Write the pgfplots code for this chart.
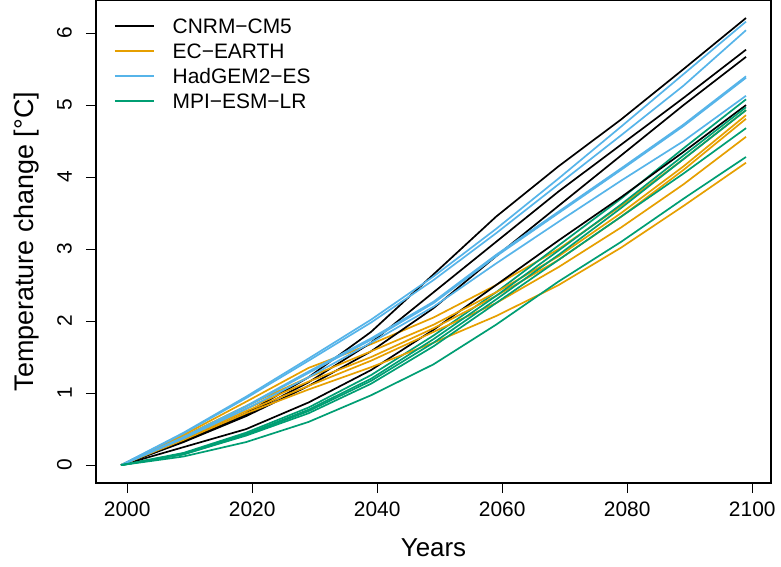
\documentclass[border=0pt]{standalone}
\usepackage{fontspec}
\setmainfont{Liberation Sans}
\usepackage{pgfplots}
\pgfplotsset{compat=1.18}
\definecolor{cnrm}{HTML}{000000}
\definecolor{ecearth}{HTML}{E69F00}
\definecolor{hadgem}{HTML}{56B4E9}
\definecolor{mpi}{HTML}{009E73}
\begin{document}
\begin{tikzpicture}
\useasboundingbox (-96bp,-84bp) rectangle (685bp,483bp);
\begin{axis}[
  at={(0,0)}, anchor=south west,
  width=675bp, height=483bp, scale only axis,
  xmin=1995, xmax=2103, ymin=-0.248, ymax=6.46,
  xtick={2000,2020,2040,2060,2080,2100},
  xticklabels={2000,2020,2040,2060,2080,2100},
  ytick={0,1,2,3,4,5,6},
  yticklabels={0,1,2,3,4,5,6},
  xtick pos=bottom, ytick pos=left,
  tick align=outside, major tick length=10bp,
  tick style={black, line width=1.1bp},
  axis line style={line width=1.1bp, black},
  ticklabel style={font=\fontsize{21}{21}\selectfont, inner sep=0pt},
  xticklabel style={anchor=north},
  yticklabel style={rotate=90, anchor=south},
  xticklabel shift=9bp, yticklabel shift=14bp,
  xlabel={Years}, ylabel={Temperature change [°C]},
  label style={inner sep=0pt},
  xlabel style={font=\fontsize{26}{26}\selectfont, at={(axis description cs:0.5,0)}, anchor=base, yshift=-73bp},
  ylabel style={font=\fontsize{27}{27}\selectfont, at={(axis description cs:-0.0919,0.5)}, anchor=base, rotate=0},
  legend image code/.code={\draw[#1, line width=1.7bp] (0bp,0bp) -- (39bp,0bp);},
  legend style={at={(axis description cs:0.0267,0.9623)}, anchor=north west,
    draw=none, fill=none, font=\fontsize{21}{21}\selectfont,
    inner sep=0pt, outer sep=0pt, row sep=10bp,
    nodes={inner sep=0pt, text height=15bp, text depth=0bp},
    /tikz/every odd column/.style={column sep=18bp}},
  legend cell align=left,
  every axis plot/.append style={line width=1.7bp},
]
% CNRM-CM5
\addplot[cnrm] coordinates {(1999,0) (2009,0.35) (2019,0.72) (2029,1.22) (2039,1.85) (2049,2.65) (2059,3.45) (2069,4.15) (2079,4.80) (2089,5.50) (2099,6.21)};
\addlegendentry{CNRM−CM5}
\addplot[ecearth] coordinates {(1999,0) (2009,0.42) (2019,0.88) (2029,1.35) (2039,1.68) (2049,2.05) (2059,2.50) (2069,3.00) (2079,3.60) (2089,4.25) (2099,4.93)};
\addlegendentry{EC−EARTH}
\addplot[hadgem] coordinates {(1999,0) (2009,0.45) (2019,0.95) (2029,1.48) (2039,2.02) (2049,2.62) (2059,3.28) (2069,3.98) (2079,4.70) (2089,5.43) (2099,6.16)};
\addlegendentry{HadGEM2−ES}
\addplot[mpi] coordinates {(1999,0) (2009,0.17) (2019,0.45) (2029,0.80) (2039,1.25) (2049,1.80) (2059,2.40) (2069,3.05) (2079,3.70) (2089,4.40) (2099,5.08)};
\addlegendentry{MPI−ESM−LR}
% remaining CNRM-CM5
\addplot[cnrm, forget plot] coordinates {(1999,0) (2009,0.33) (2019,0.70) (2029,1.15) (2039,1.70) (2049,2.40) (2059,3.10) (2069,3.80) (2079,4.45) (2089,5.10) (2099,5.77)};
\addplot[cnrm, forget plot] coordinates {(1999,0) (2009,0.32) (2019,0.68) (2029,1.10) (2039,1.58) (2049,2.18) (2059,2.90) (2069,3.60) (2079,4.30) (2089,5.00) (2099,5.67)};
\addplot[cnrm, forget plot] coordinates {(1999,0) (2009,0.25) (2019,0.50) (2029,0.87) (2039,1.32) (2049,1.88) (2059,2.50) (2069,3.12) (2079,3.72) (2089,4.35) (2099,5.00)};
% remaining EC-EARTH
\addplot[ecearth, forget plot] coordinates {(1999,0) (2009,0.40) (2019,0.82) (2029,1.22) (2039,1.58) (2049,1.95) (2059,2.40) (2069,2.90) (2079,3.50) (2089,4.15) (2099,4.86)};
\addplot[ecearth, forget plot] coordinates {(1999,0) (2009,0.38) (2019,0.78) (2029,1.16) (2039,1.50) (2049,1.90) (2059,2.35) (2069,2.85) (2079,3.45) (2089,4.10) (2099,4.81)};
\addplot[ecearth, forget plot] coordinates {(1999,0) (2009,0.37) (2019,0.75) (2029,1.10) (2039,1.45) (2049,1.85) (2059,2.25) (2069,2.75) (2079,3.30) (2089,3.90) (2099,4.56)};
\addplot[ecearth, forget plot] coordinates {(1999,0) (2009,0.35) (2019,0.72) (2029,1.05) (2039,1.36) (2049,1.70) (2059,2.07) (2069,2.50) (2079,3.02) (2089,3.60) (2099,4.20)};
% remaining HadGEM2-ES
\addplot[hadgem, forget plot] coordinates {(1999,0) (2009,0.44) (2019,0.93) (2029,1.45) (2039,1.98) (2049,2.57) (2059,3.22) (2069,3.90) (2079,4.58) (2089,5.27) (2099,6.04)};
\addplot[hadgem, forget plot] coordinates {(1999,0) (2009,0.39) (2019,0.82) (2029,1.30) (2039,1.76) (2049,2.27) (2059,2.92) (2069,3.52) (2079,4.12) (2089,4.73) (2099,5.40)};
\addplot[hadgem, forget plot] coordinates {(1999,0) (2009,0.38) (2019,0.81) (2029,1.28) (2039,1.74) (2049,2.25) (2059,2.90) (2069,3.50) (2079,4.10) (2089,4.71) (2099,5.38)};
\addplot[hadgem, forget plot] coordinates {(1999,0) (2009,0.37) (2019,0.78) (2029,1.22) (2039,1.70) (2049,2.20) (2059,2.80) (2069,3.38) (2079,3.95) (2089,4.50) (2099,5.13)};
% remaining MPI-ESM-LR
\addplot[mpi, forget plot] coordinates {(1999,0) (2009,0.16) (2019,0.43) (2029,0.77) (2039,1.20) (2049,1.75) (2059,2.35) (2069,2.98) (2079,3.62) (2089,4.30) (2099,4.97)};
\addplot[mpi, forget plot] coordinates {(1999,0) (2009,0.15) (2019,0.42) (2029,0.75) (2039,1.17) (2049,1.70) (2059,2.30) (2069,2.92) (2079,3.57) (2089,4.25) (2099,4.93)};
\addplot[mpi, forget plot] coordinates {(1999,0) (2009,0.15) (2019,0.41) (2029,0.72) (2039,1.13) (2049,1.65) (2059,2.25) (2069,2.85) (2079,3.45) (2089,4.05) (2099,4.68)};
\addplot[mpi, forget plot] coordinates {(1999,0) (2009,0.12) (2019,0.32) (2029,0.60) (2039,0.97) (2049,1.40) (2059,1.95) (2069,2.55) (2079,3.10) (2089,3.70) (2099,4.28)};
\end{axis}
\end{tikzpicture}
\end{document}
